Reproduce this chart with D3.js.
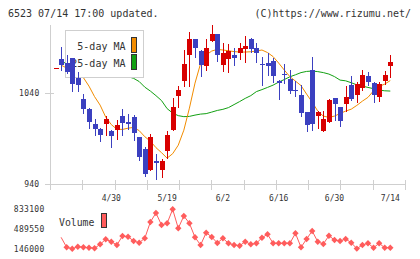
<!DOCTYPE html>
<html><head><meta charset="utf-8">
<script src="https://cdn.jsdelivr.net/npm/d3@7"></script>
<style>
body{margin:0;background:#fff}
svg{display:block}
text{font-family:"DejaVu Sans Mono",monospace}
</style>
</head><body>
<svg id="c" width="420" height="259"></svg>
<script>
// ---- data ----
const open  = [1067,1077,1073,1078,1056,1033,1022,1006,1000,1006,998,999,1015,1008,1014,992,979,955,965,955,976,999,1036,1053,1081,1099,1086,1069,1097,1104,1070,1077,1081,1083,1088,1099,1089,1072,1073,1075,1053,1061,1055,1043,1038,1019,1065,1015,998,1008,1034,1024,1028,1049,1038,1045,1058,1051,1035,1053,1069];
const high  = [1067,1090,1081,1078,1063,1039,1023,1011,1001,1015,999,1010,1022,1017,1016,992,981,995,973,968,998,1034,1047,1087,1106,1099,1087,1099,1114,1104,1095,1093,1089,1095,1102,1100,1095,1079,1084,1078,1054,1071,1065,1053,1048,1019,1079,1020,1020,1033,1034,1024,1047,1058,1052,1065,1063,1052,1052,1064,1081];
const low   = [1067,1065,1062,1042,1042,1018,1001,994,987,994,981,989,994,1000,988,966,949,955,946,948,969,999,1025,1047,1047,1079,1058,1065,1097,1075,1064,1063,1070,1077,1074,1085,1074,1049,1059,1052,1033,1051,1040,1036,1015,998,999,1002,998,1008,1010,1004,1020,1032,1030,1043,1048,1030,1031,1050,1057];
const close = [1067,1070,1063,1050,1049,1022,1008,1000,994,1011,993,1005,1007,1006,996,970,951,992,963,965,994,1025,1043,1071,1099,1089,1070,1089,1104,1081,1083,1086,1078,1089,1091,1088,1084,1070,1069,1058,1051,1059,1042,1042,1018,1005,1006,1019,1011,1032,1028,1009,1035,1033,1050,1059,1052,1038,1050,1059,1074];
const ma5   = [null,1070.3,1067.1,1063.8,1060.5,1056.6,1047.3,1035.8,1026.5,1013.4,1005.2,1000.2,999.9,1001.3,1002.1,998.6,992,987.1,980,974.5,968.5,973.4,982.7,999.1,1023.2,1050.6,1072,1081.3,1085.7,1087.5,1086.8,1086,1085.1,1084.6,1084.6,1084.9,1085.7,1086.8,1084,1079.6,1072.5,1064.9,1057.7,1052.8,1047.9,1038.6,1029.8,1020,1014.5,1013.1,1014.5,1017.4,1020,1022.1,1026.2,1030.9,1035,1042.2,1047,1049.5,1053.4];
const ma25  = [null,1073.1,1072.9,1072.5,1072,1070.9,1069.8,1068.7,1067.1,1065.4,1063.8,1062.1,1059.9,1057.7,1055.8,1052.3,1046.2,1041.9,1036.9,1031.5,1022.7,1017.8,1015,1013.9,1014.2,1015.6,1016.7,1017.2,1018.9,1020.7,1021.9,1023.8,1027.1,1030.4,1033.9,1036.9,1041.3,1043.5,1045.9,1048.4,1051.7,1054.5,1057.5,1059.7,1062.1,1063.4,1063.8,1063.2,1062.1,1060.5,1057.7,1053.9,1053.1,1051,1048.7,1047.3,1045.9,1044.5,1043,1042.2,1041.9];
const volume = [null,344800,170400,146000,180900,170400,163400,153000,222700,309900,268100,210500,367500,355300,280300,250600,327400,611600,768600,559300,589000,833100,501800,716300,589000,344800,210500,425000,350000,245400,327400,240200,210500,198300,268100,222700,240200,337800,397100,240200,240200,240200,240200,414600,170400,315200,454700,268100,228000,372700,297700,280300,315200,250600,148000,210500,240200,163400,240200,163400,163400];
const dateLabels = ["4/30","5/19","6/2","6/16","6/30","7/14"];
const dateLabelIdx = [10,20,30,40,50,60];
const priceTicks = [940,1040];
const volTicks = [146000,489550,833100];
const gridTickCount = 12;
const headerLeft = "6523 07/14 17:00 updated.";
const headerRight = "(C)https://www.rizumu.net/";
const legendMA = ["5-day MA","25-day MA"];

// ---- styles ----
const RED = "#d80000", BLUE = "#3b40c0", ORANGE = "#f28c00", GREEN = "#12a012", VOL = "#ff5c5c", AXIS = "#cfcfcf", TXT = "#333";

const svg = d3.select("#c");
const n = open.length;
const x = d3.scaleLinear().domain([0, n - 1]).range([55.5, 390.3]);
const y = d3.scaleLinear().domain([940, 1040]).range([184.2, 92.8]);
const yv = d3.scaleLinear().domain([146000, 833100]).range([248.7, 209.3]);
const g = d3.scaleLinear().domain([0, gridTickCount - 1]).range([50, 405]);
const px = v => Math.round(v);

// header
svg.append("text").attr("x", 8).attr("y", 16.5).attr("font-size", 10).attr("fill", TXT).text(headerLeft);
svg.append("text").attr("x", 411).attr("y", 16.5).attr("font-size", 10).attr("fill", TXT).attr("text-anchor", "end").text(headerRight);

// axes
const ax = svg.append("g").attr("stroke", AXIS).attr("shape-rendering", "crispEdges");
ax.append("line").attr("x1", 50.5).attr("x2", 50.5).attr("y1", 25).attr("y2", 190);
ax.append("line").attr("x1", 50).attr("x2", 406).attr("y1", 184.5).attr("y2", 184.5);
d3.range(gridTickCount).forEach(k => {
  const gx = px(g(k)) + 0.5;
  ax.append("line").attr("x1", gx).attr("x2", gx).attr("y1", 180).attr("y2", 190);
});
priceTicks.forEach(t => {
  const ty = px(y(t)) + 0.5;
  ax.append("line").attr("x1", 45).attr("x2", 54).attr("y1", ty).attr("y2", ty);
  svg.append("text").attr("x", 39.5).attr("y", y(t) + 3).attr("font-size", 8).attr("fill", TXT)
    .attr("text-anchor", "end").attr("letter-spacing", 0.3).text(t);
});
dateLabelIdx.forEach((di, k) => {
  svg.append("text").attr("x", x(di)).attr("y", 201).attr("font-size", 8).attr("fill", TXT)
    .attr("text-anchor", "middle").text(dateLabels[k]);
});

// moving averages
const idx = d3.range(n);
const lineOf = arr => d3.line().defined(i => arr[i] != null).x(i => x(i)).y(i => y(arr[i]));
svg.append("path").attr("d", lineOf(ma25)(idx)).attr("fill", "none").attr("stroke", GREEN).attr("stroke-width", 1);
svg.append("path").attr("d", lineOf(ma5)(idx)).attr("fill", "none").attr("stroke", ORANGE).attr("stroke-width", 1);

// legend box (MA)
svg.append("rect").attr("x", 65.5).attr("y", 30.5).attr("width", 78).attr("height", 47)
  .attr("fill", "#fff").attr("stroke", AXIS).attr("shape-rendering", "crispEdges");
[ORANGE, GREEN].forEach((c, k) => {
  svg.append("text").attr("x", 125.5).attr("y", 49.5 + k * 17).attr("font-size", 10).attr("fill", TXT)
    .attr("text-anchor", "end").text(legendMA[k]);
  svg.append("rect").attr("x", 131.5).attr("y", 37.5 + k * 17).attr("width", 5).attr("height", 15)
    .attr("fill", c).attr("stroke", "#333").attr("shape-rendering", "crispEdges");
});

// candles
const cg = svg.append("g").attr("shape-rendering", "crispEdges");
idx.forEach(i => {
  const cx = px(x(i));
  const up = close[i] >= open[i];
  const col = up ? RED : BLUE;
  cg.append("line").attr("x1", cx + 0.5).attr("x2", cx + 0.5)
    .attr("y1", px(y(high[i]))).attr("y2", px(y(low[i])) + 1).attr("stroke", col);
  const top = px(y(Math.max(open[i], close[i])));
  const bot = px(y(Math.min(open[i], close[i])));
  cg.append("rect").attr("x", cx - 2).attr("width", 5).attr("y", top).attr("height", Math.max(1, bot - top)).attr("fill", col);
});

// volume
const vg = svg.append("g");
vg.append("path").attr("d", d3.line().defined(i => volume[i] != null).x(i => x(i)).y(i => yv(volume[i]))(idx))
  .attr("fill", "none").attr("stroke", VOL).attr("stroke-width", 1);
const firstVol = volume.findIndex(v => v != null);
idx.filter(i => volume[i] != null && i > firstVol).forEach(i => {
  const vx = x(i), vy = yv(volume[i]);
  vg.append("path").attr("d", `M${vx},${vy-3.2}L${vx+3.2},${vy}L${vx},${vy+3.2}L${vx-3.2},${vy}Z`).attr("fill", VOL);
});
volTicks.forEach(t => {
  svg.append("text").attr("x", 44.5).attr("y", yv(t) + 3).attr("font-size", 8).attr("fill", TXT)
    .attr("text-anchor", "end").attr("letter-spacing", 0.3).text(t);
});
svg.append("text").attr("x", 59).attr("y", 225.5).attr("font-size", 9.8).attr("fill", TXT).text("Volume");
svg.append("rect").attr("x", 101.5).attr("y", 213.5).attr("width", 5).attr("height", 14)
  .attr("fill", VOL).attr("stroke", "#333").attr("shape-rendering", "crispEdges");
</script>
</body></html>
